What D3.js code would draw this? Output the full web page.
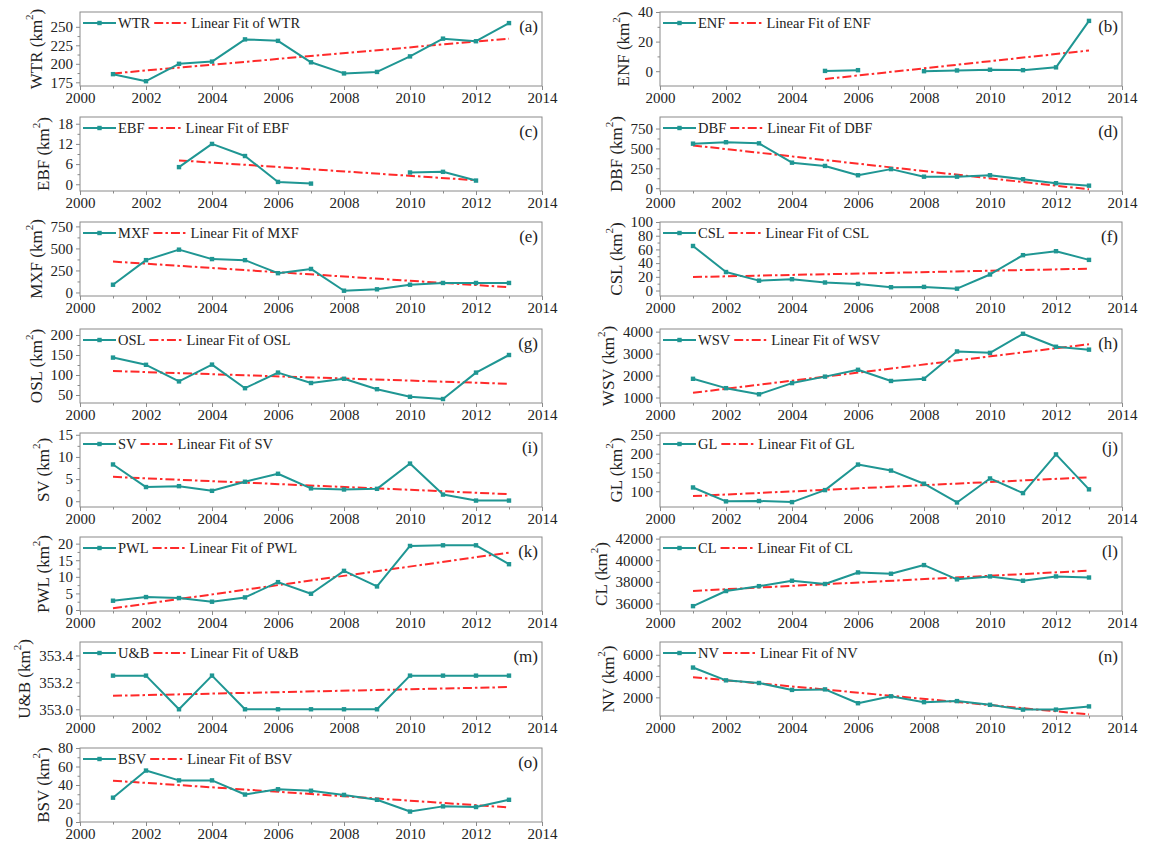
<!DOCTYPE html>
<html><head><meta charset="utf-8">
<script src="https://cdn.jsdelivr.net/npm/d3@7"></script>
<style>body{margin:0;background:#fff}svg{display:block}</style>
</head><body><svg id="c" width="1154" height="846"></svg>
<script>
// ---------------- DATA ----------------
const years  = [2001,2002,2003,2004,2005,2006,2007,2008,2009,2010,2011,2012,2013];
const xTicks = [2000,2002,2004,2006,2008,2010,2012,2014];

const WTR = [186,176.5,200,203,233,231,202,187,189,210,234,230.5,255];
const ENF = [null,null,null,null,0.2,0.7,null,0,0.5,1,0.7,2.6,34];
const EBF = [null,null,5.1,12,8.4,0.7,0.2,null,null,3.5,3.7,1.1,null];
const DBF = [560,578,564,321,280,163,240,145,145,163,113,63,32];
const MXF = [88,367,486,379,367,219,267,20,36,88,108,108,108];
const CSL = [65,27,14.4,16.5,11.7,9.6,4.8,5.3,2.7,23.4,51.6,57.4,44.7];
const OSL = [143.5,125.5,84,126,67,106,80,90.6,64.5,45.6,40,106,150];
const WSV = [1852,1426,1148,1656,1951,2262,1754,1852,3098,3033,3902,3311,3180];
const SV  = [8.3,3.2,3.4,2.35,4.4,6.2,2.9,2.65,2.8,8.5,1.5,0.15,0.15];
const GL  = [110,73,74,71,103,171,155,120,70,134,95,198,105];
const PWL = [2.8,3.9,3.6,2.5,3.8,8.4,4.9,11.8,7.1,19.3,19.5,19.5,13.8];
const CL  = [35750,37150,37600,38100,37800,38870,38750,39550,38230,38500,38100,38500,38400];
const UB  = [353.25,353.25,353.0,353.25,353.0,353.0,353.0,353.0,353.0,353.25,353.25,353.25,353.25];
const NV  = [4800,3600,3350,2700,2750,1450,2100,1550,1650,1300,850,850,1150];
const BSV = [26.3,55.6,45,45,29.7,35.4,33.8,29.3,24,11.3,16.9,16.2,24];

// linear-fit end points: [[year, value], [year, value]]
const fitWTR = [[2001,187],[2013,234]];
const fitENF = [[2005,-5.3],[2013,14]];
const fitEBF = [[2003,7.1],[2012,1.2]];
const fitDBF = [[2001,538],[2013,-14]];
const fitMXF = [[2001,351],[2013,60]];
const fitCSL = [[2001,19.7],[2013,31.9]];
const fitOSL = [[2001,110],[2013,78]];
const fitWSV = [[2001,1213],[2013,3426]];
const fitSV  = [[2001,5.5],[2013,1.6]];
const fitGL  = [[2001,87],[2013,137]];
const fitPWL = [[2001,0.5],[2013,17.3]];
const fitCL  = [[2001,37160],[2013,39030]];
const fitUB  = [[2001,353.10],[2013,353.165]];
const fitNV  = [[2001,3900],[2013,400]];
const fitBSV = [[2001,44.7],[2013,15.8]];

// y tick labels
const ticksWTR = [175,200,225,250];
const ticksENF = [0,20,40];
const ticksEBF = [0,6,12,18];
const ticksDBF = [0,250,500,750];
const ticksMXF = [0,250,500,750];
const ticksCSL = [0,20,40,60,80,100];
const ticksOSL = [50,100,150,200];
const ticksWSV = [1000,2000,3000,4000];
const ticksSV  = [0,5,10,15];
const ticksGL  = [100,150,200,250];
const ticksPWL = [0,5,10,15,20];
const ticksCL  = [36000,38000,40000,42000];
const ticksUB  = [353.0,353.2,353.4];
const ticksNV  = [2000,4000,6000];
const ticksBSV = [0,20,40,60,80];

// ---------------- PANELS ----------------
const panels = [
  {name:"WTR", tag:"(a)", data:WTR, fit:fitWTR, ticks:ticksWTR, dom:[170,270], row:0, col:0},
  {name:"ENF", tag:"(b)", data:ENF, fit:fitENF, ticks:ticksENF, dom:[-10,40], row:0, col:1},
  {name:"EBF", tag:"(c)", data:EBF, fit:fitEBF, ticks:ticksEBF, dom:[-2,20], row:1, col:0},
  {name:"DBF", tag:"(d)", data:DBF, fit:fitDBF, ticks:ticksDBF, dom:[-35,895], row:1, col:1},
  {name:"MXF", tag:"(e)", data:MXF, fit:fitMXF, ticks:ticksMXF, dom:[-40,800], row:2, col:0},
  {name:"CSL", tag:"(f)", data:CSL, fit:fitCSL, ticks:ticksCSL, dom:[-8,100], row:2, col:1},
  {name:"OSL", tag:"(g)", data:OSL, fit:fitOSL, ticks:ticksOSL, dom:[30,215], row:3, col:0},
  {name:"WSV", tag:"(h)", data:WSV, fit:fitWSV, ticks:ticksWSV, dom:[750,4120], row:3, col:1},
  {name:"SV",  tag:"(i)", data:SV,  fit:fitSV,  ticks:ticksSV,  dom:[-1.3,15.4], row:4, col:0},
  {name:"GL",  tag:"(j)", data:GL,  fit:fitGL,  ticks:ticksGL,  dom:[58,255], row:4, col:1},
  {name:"PWL", tag:"(k)", data:PWL, fit:fitPWL, ticks:ticksPWL, dom:[-0.3,22], row:5, col:0},
  {name:"CL",  tag:"(l)", data:CL,  fit:fitCL,  ticks:ticksCL,  dom:[35300,42150], row:5, col:1},
  {name:"U&B", tag:"(m)", data:UB,  fit:fitUB,  ticks:ticksUB,  dom:[352.95,353.5], row:6, col:0, fmt:d3.format(".1f")},
  {name:"NV",  tag:"(n)", data:NV,  fit:fitNV,  ticks:ticksNV,  dom:[250,7200], row:6, col:1},
  {name:"BSV", tag:"(o)", data:BSV, fit:fitBSV, ticks:ticksBSV, dom:[0,80], row:7, col:0}
];

// ---------------- LAYOUT ----------------
const colLeft = [80, 660];
const W = 462, H = 74;
const rowBottom = [86, 191, 296, 403, 507, 611, 716, 822];
const TEAL = "#1f9693", RED = "#ff2a2a", FRAME = "#8a8a8a";
const FONT = "'Liberation Serif','Times New Roman',serif";

const svg = d3.select("#c");
svg.append("rect").attr("width",1154).attr("height",846).attr("fill","#fff");

panels.forEach(p => {
  const L = colLeft[p.col], B = rowBottom[p.row], T = B - H;
  const x = d3.scaleLinear().domain([2000,2014]).range([L, L+W]);
  const y = d3.scaleLinear().domain(p.dom).range([B, T]);
  const g = svg.append("g");

  // x axis
  g.append("g").attr("transform",`translate(0,${B})`)
    .call(d3.axisBottom(x).tickValues(xTicks).tickFormat(d3.format("d")).tickSize(4).tickPadding(2));
  g.append("g").attr("transform",`translate(0,${B})`)
    .call(d3.axisBottom(x).tickValues(years.filter(v=>v%2===1)).tickFormat("").tickSize(2.5))
    .select(".domain").remove();

  // y axis
  const ya = g.append("g").attr("transform",`translate(${L},0)`)
    .call(d3.axisLeft(y).tickValues(p.ticks).tickFormat(p.fmt || d3.format("d")).tickSize(4).tickPadding(3));
  const minor = [];
  for (let i=0;i<p.ticks.length-1;i++) minor.push((p.ticks[i]+p.ticks[i+1])/2);
  g.append("g").attr("transform",`translate(${L},0)`)
    .call(d3.axisLeft(y).tickValues(minor).tickFormat("").tickSize(2.5))
    .select(".domain").remove();

  g.selectAll(".domain").remove();
  g.selectAll(".tick line").attr("stroke",FRAME);
  g.selectAll(".tick text").attr("font-family",FONT).attr("font-size",15).attr("fill","#222");

  // frame
  g.append("rect").attr("x",L).attr("y",T).attr("width",W).attr("height",H)
    .attr("fill","none").attr("stroke",FRAME).attr("stroke-width",1);

  // y title
  let maxW = 0;
  ya.selectAll(".tick text").each(function(){ maxW = Math.max(maxW, this.getComputedTextLength()); });
  const tx = L - 7 - maxW - 15, ty = T + H/2;
  const title = g.append("text").attr("transform",`translate(${tx},${ty}) rotate(-90)`)
    .attr("text-anchor","middle").attr("dominant-baseline","central")
    .attr("font-family",FONT).attr("font-size",17).attr("fill","#222");
  title.append("tspan").text(`${p.name} (km`);
  title.append("tspan").attr("font-size",11).attr("dy",-7).text("2");
  title.append("tspan").attr("dy",7).text(")");

  // fit line
  g.append("line")
    .attr("x1",x(p.fit[0][0])).attr("y1",y(p.fit[0][1]))
    .attr("x2",x(p.fit[1][0])).attr("y2",y(p.fit[1][1]))
    .attr("stroke",RED).attr("stroke-width",2).attr("stroke-dasharray","9,3,2.5,3");

  // data line
  const pts = years.map((yr,i)=>({yr, v:p.data[i]}));
  const line = d3.line().defined(d=>d.v!=null).x(d=>x(d.yr)).y(d=>y(d.v));
  g.append("path").datum(pts).attr("d",line).attr("fill","none")
    .attr("stroke",TEAL).attr("stroke-width",2).attr("stroke-linejoin","round");
  g.selectAll("rect.m").data(pts.filter(d=>d.v!=null)).enter().append("rect")
    .attr("class","m").attr("x",d=>x(d.yr)-2.2).attr("y",d=>y(d.v)-2.2)
    .attr("width",4.4).attr("height",4.4).attr("fill",TEAL);

  // legend
  const ly = T + 11;
  g.append("line").attr("x1",L+3).attr("x2",L+36).attr("y1",ly).attr("y2",ly)
    .attr("stroke",TEAL).attr("stroke-width",2);
  g.append("rect").attr("x",L+19.5-2.2).attr("y",ly-2.2).attr("width",4.4).attr("height",4.4).attr("fill",TEAL);
  const t1 = g.append("text").attr("x",L+38).attr("y",ly).attr("dominant-baseline","central")
    .attr("font-family",FONT).attr("font-size",14.5).attr("fill","#222").text(p.name);
  const e1 = L + 38 + t1.node().getComputedTextLength();
  g.append("line").attr("x1",e1+4).attr("x2",e1+38).attr("y1",ly).attr("y2",ly)
    .attr("stroke",RED).attr("stroke-width",2).attr("stroke-dasharray","9,3,2.5,3");
  g.append("text").attr("x",e1+41).attr("y",ly).attr("dominant-baseline","central")
    .attr("font-family",FONT).attr("font-size",14.5).attr("fill","#222").text(`Linear Fit of ${p.name}`);

  // panel tag
  g.append("text").attr("x",L+W-4).attr("y",T+20).attr("text-anchor","end")
    .attr("font-family",FONT).attr("font-size",17).attr("fill","#222").text(p.tag);
});
</script></body></html>
